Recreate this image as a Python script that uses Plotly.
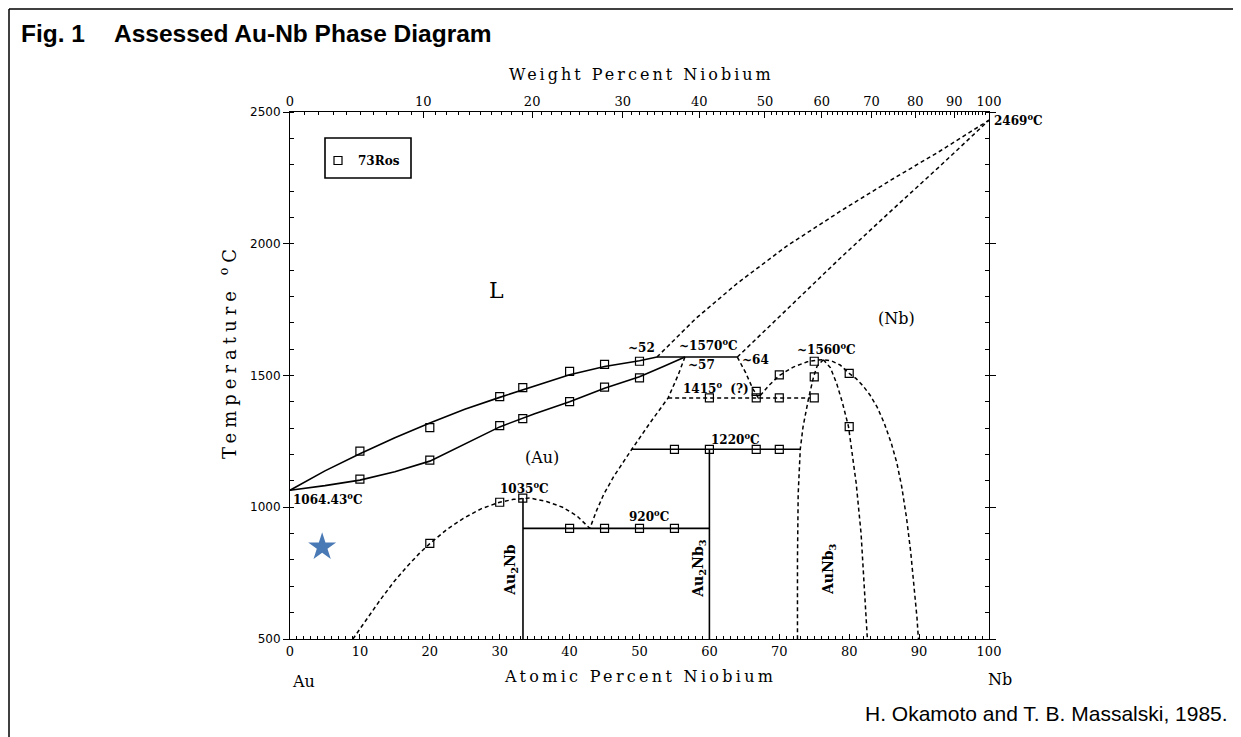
import plotly.graph_objects as go

SERIF = "DejaVu Serif"
SANS = "Liberation Sans"

# ---------------- data (atomic % Nb, temperature in deg C) ----------------
liq_x = [0, 5, 10, 15, 20, 25, 30, 35, 40, 45, 50, 52.5]
liq_t = [1064.43, 1138, 1203, 1264, 1320, 1372, 1417, 1461, 1503, 1534, 1556, 1570]

sol_x = [0, 5, 10, 15, 20, 25, 30, 35, 40, 45, 50, 53.5, 56.5]
sol_t = [1064.43, 1082, 1103, 1135, 1175, 1240, 1305, 1355, 1400, 1452, 1495, 1535, 1570]

peri_x = [52.5, 64]
peri_t = [1570, 1570]

nb_liq_x = [52.5, 58, 64, 71, 79, 86, 93, 100]
nb_liq_t = [1570, 1715, 1850, 1990, 2128, 2242, 2352, 2469]

nb_sol_x = [64, 71.5, 78.7, 85.8, 93, 100]
nb_sol_t = [1570, 1760, 1945, 2120, 2295, 2469]

nb_bound_x = [64, 65.2, 66.2, 67, 68.5, 70, 72, 74, 75.5, 76.3, 77.5, 78.7, 80, 81, 82, 83,
              84, 85, 86, 86.8, 87.5, 88.2, 88.8, 89.3, 89.7, 89.9]
nb_bound_t = [1570, 1510, 1450, 1415, 1462, 1500, 1532, 1552, 1559, 1560, 1555, 1540, 1508, 1488,
              1460, 1425, 1380, 1320, 1245, 1170, 1080, 960, 830, 700, 580, 500]

aunb3_r_x = [76.3, 77.3, 78.2, 79, 79.9, 81, 81.7, 82.2, 82.6]
aunb3_r_t = [1560, 1530, 1470, 1400, 1306, 1091, 900, 700, 500]

aunb3_l_x = [76.3, 75.4, 74.9, 74.2, 73.4, 73.0, 72.7, 72.6, 72.6]
aunb3_l_t = [1560, 1535, 1495, 1415, 1306, 1220, 1050, 800, 500]

au_bound_x = [56.5, 55.5, 54.1, 51.5, 48.9, 46.3, 44.9, 43.9, 42.9]
au_bound_t = [1570, 1500, 1415, 1320, 1220, 1116, 1050, 990, 920]

au_solvus_x = [9, 11, 12.9, 14.8, 16.7, 18.4, 20, 22.4, 24.8, 27.4, 30, 32, 34.3, 36.7, 39, 41, 42.9]
au_solvus_t = [500, 578, 648, 715, 774, 822, 862, 915, 958, 995, 1019, 1030, 1035, 1022, 1000, 968, 920]

eut1415_x = [54.1, 74.4]
eut1415_t = [1415, 1415]
eut920_x = [33.33, 60]
eut920_t = [920, 920]
per1220_x = [48.9, 73.0]
per1220_t = [1220, 1220]
au2nb_x = [33.33, 33.33]
au2nb_t = [500, 1035]
au2nb3_x = [60, 60]
au2nb3_t = [500, 1220]

# experimental points, 73Ros
ros_x = [10, 20, 30, 33.3, 40, 45, 50,
         10, 20, 30, 33.3, 40, 45, 50,
         20, 30, 33.3,
         40, 45, 50, 55,
         55, 60, 66.7, 70,
         60, 66.7, 70, 75,
         66.7, 70, 75, 75, 80, 80]
ros_t = [1213, 1302, 1420, 1454, 1516, 1542, 1554,
         1107, 1179, 1310, 1336, 1401, 1456, 1491,
         863, 1019, 1035,
         920, 920, 920, 920,
         1220, 1220, 1220, 1220,
         1415, 1415, 1415, 1415,
         1440, 1502, 1495, 1554, 1508, 1306]

# marked point (star)
star_x = [4.6]
star_t = [849]

# axis ticks
at_ticks = [0, 10, 20, 30, 40, 50, 60, 70, 80, 90, 100]
wt_ticks = [0, 10, 20, 30, 40, 50, 60, 70, 80, 90, 100]
t_ticks = [500, 1000, 1500, 2000, 2500]

M_NB, M_AU = 92.906, 196.967


def wt_to_at(w):
    a = w / M_NB
    b = (100 - w) / M_AU
    return 100 * a / (a + b)


# layout geometry (reference pixels); page body adds an 8px offset
OFF = 8
PL, PR, PT, PB = 290, 989, 112, 639
PW, PH = PR - PL, PB - PT


def px(x):
    return (x - PL) / PW


def py(y):
    return (PB - y) / PH


fig = go.Figure()

solid = dict(color="black", width=1.6)
dashed = dict(color="black", width=1.5, dash="4px,3px")


def add_line(x, y, line):
    fig.add_trace(go.Scatter(x=x, y=y, mode="lines", line=line, showlegend=False,
                             hoverinfo="skip"))


add_line(liq_x, liq_t, solid)
add_line(sol_x, sol_t, solid)
add_line(peri_x, peri_t, solid)
add_line(nb_liq_x, nb_liq_t, dashed)
add_line(nb_sol_x, nb_sol_t, dashed)
add_line(nb_bound_x, nb_bound_t, dashed)
add_line(aunb3_r_x, aunb3_r_t, dashed)
add_line(aunb3_l_x, aunb3_l_t, dashed)
add_line(au_bound_x, au_bound_t, dashed)
add_line(au_solvus_x, au_solvus_t, dashed)
add_line(eut1415_x, eut1415_t, dashed)
add_line(eut920_x, eut920_t, solid)
add_line(per1220_x, per1220_t, solid)
add_line(au2nb_x, au2nb_t, solid)
add_line(au2nb3_x, au2nb3_t, solid)

fig.add_trace(go.Scatter(x=ros_x, y=ros_t, mode="markers", name="<b>73Ros</b>",
                         marker=dict(symbol="square-open", size=8, color="black",
                                     line=dict(width=1.2, color="black"))))

fig.add_trace(go.Scatter(x=star_x, y=star_t, mode="markers", showlegend=False,
                         marker=dict(symbol="star", size=21, color="#4a7ab5",
                                     line=dict(width=0))))

# invisible trace for top axis
fig.add_trace(go.Scatter(x=[0, 100], y=[500, 500], xaxis="x2", mode="lines",
                         line=dict(width=0), showlegend=False, hoverinfo="skip"))

wt_minor = [wt_to_at(w) for w in range(0, 101) if w % 10 != 0]

fig.update_layout(
    width=1241, height=737, autosize=False,
    paper_bgcolor="white", plot_bgcolor="white",
    margin=dict(l=PL - OFF, r=1241 - (PR - OFF), t=PT - OFF, b=737 - (PB - OFF)),
    showlegend=True,
    legend=dict(x=px(318), y=py(146), xanchor="left", yanchor="top",
                bgcolor="rgba(0,0,0,0)", borderwidth=0,
                font=dict(family=SERIF, size=12, color="black"), itemwidth=30),
    xaxis=dict(range=[0, 100], tickvals=at_ticks, ticktext=[str(v) for v in at_ticks],
               showgrid=False, zeroline=False, showline=True, linecolor="black", linewidth=1,
               ticks="inside", ticklen=5, tickcolor="black",
               minor=dict(dtick=1, ticks="inside", ticklen=3, tickcolor="black"),
               tickfont=dict(family=SERIF, size=13, color="black"), mirror=False),
    xaxis2=dict(range=[0, 100], overlaying="x", side="top", anchor="y",
                tickvals=[wt_to_at(w) for w in wt_ticks], ticktext=[str(w) for w in wt_ticks],
                showgrid=False, zeroline=False, showline=True, linecolor="black", linewidth=1,
                ticks="inside", ticklen=6, tickcolor="black",
                minor=dict(tickvals=wt_minor, ticks="inside", ticklen=3, tickcolor="black"),
                tickfont=dict(family=SERIF, size=13, color="black")),
    yaxis=dict(range=[500, 2500], tickvals=t_ticks, ticktext=[str(v) for v in t_ticks],
               showgrid=False, zeroline=False, showline=True, linecolor="black", linewidth=1,
               ticks="outside", ticklen=6, tickcolor="black", mirror="ticks",
               minor=dict(dtick=100, ticks="inside", ticklen=4, tickcolor="black"),
               tickfont=dict(family="DejaVu Sans", size=12, color="black")),
)

ann = []


def label(text, x, y, size=12, xanchor="center", yanchor="middle", angle=0, family=SERIF,
          xref="x", yref="y"):
    ann.append(dict(text=text, x=x, y=y, xref=xref, yref=yref, showarrow=False,
                    xanchor=xanchor, yanchor=yanchor, textangle=angle,
                    font=dict(family=family, size=size, color="black")))


def plabel(text, xp, yp, size=12, xanchor="center", angle=0, family=SERIF):
    label(text, px(xp), py(yp), size=size, xanchor=xanchor, angle=angle, family=family,
          xref="paper", yref="paper")


# phase / point labels
label("L", 29.6, 1824, size=22)
label("(Nb)", 86.8, 1718, size=16)
label("(Au)", 36.0, 1190, size=16)
plabel("<b>2469<sup>o</sup>C</b>", 992, 120, size=12, xanchor="left")
label("<b>~52</b>", 52.5, 1603, size=12, xanchor="right")
label("<b>~1570<sup>o</sup>C</b>", 59.8, 1617, size=12)
label("<b>~64</b>", 64.4, 1560, size=12, xanchor="left")
label("<b>~57</b>", 56.7, 1540, size=12, xanchor="left")
label("<b>~1560<sup>o</sup>C</b>", 76.7, 1602, size=12)
label("<b>1415<sup>o</sup>  (?)</b>", 56.0, 1452, size=12, xanchor="left")
label("<b>1220<sup>o</sup>C</b>", 63.8, 1260, size=12)
label("<b>1035<sup>o</sup>C</b>", 33.6, 1072, size=12)
label("<b>920<sup>o</sup>C</b>", 51.4, 965, size=12)
label("<b>1064.43<sup>o</sup>C</b>", 0.1, 1032, size=12, xanchor="left")
label("<b>Au<sub>2</sub>Nb</b>", 31.6, 762, size=14, angle=-90)
label("<b>Au<sub>2</sub>Nb<sub>3</sub></b>", 58.6, 765, size=14, angle=-90)
label("<b>AuNb<sub>3</sub></b>", 77.1, 765, size=14, angle=-90)

# axis titles and corner labels
plabel('<span style="letter-spacing:3px">Weight Percent Niobium</span>', 641, 75, size=16)
plabel('<span style="letter-spacing:3.3px">Atomic Percent Niobium</span>', 640, 676, size=16)
plabel("Au", 303, 681, size=16)
plabel("Nb", 1000, 679, size=16)

# y axis title
ann.append(dict(text='<span style="letter-spacing:5px">Temperature <sup>o</sup>C</span>',
                x=px(228), y=py(352), xref="paper", yref="paper",
                showarrow=False, textangle=-90, xanchor="center", yanchor="middle",
                font=dict(family=SERIF, size=18, color="black")))

# title and credit
ann.append(dict(text="<b>Fig. 1</b>", x=px(19), y=py(33), xref="paper",
                yref="paper", showarrow=False, xanchor="left", yanchor="middle",
                font=dict(family=SANS, size=24.5, color="black")))
ann.append(dict(text="<b>Assessed Au-Nb Phase Diagram</b>", x=px(112),
                y=py(33), xref="paper", yref="paper", showarrow=False,
                xanchor="left", yanchor="middle",
                font=dict(family=SANS, size=24.5, color="black")))
ann.append(dict(text="H. Okamoto and T. B. Massalski, 1985.", x=px(1230),
                y=py(713), xref="paper", yref="paper", showarrow=False,
                xanchor="right", yanchor="middle",
                font=dict(family=SANS, size=21, color="black")))

fig.update_layout(annotations=ann)

# legend frame and outer figure frame
shapes = [
    dict(type="rect", xref="paper", yref="paper",
         x0=px(325), x1=px(411), y0=py(178), y1=py(138),
         line=dict(color="black", width=1.6)),
    dict(type="line", xref="paper", yref="paper",
         x0=px(9), x1=px(1250), y0=py(9), y1=py(9), line=dict(color="black", width=1.5)),
    dict(type="line", xref="paper", yref="paper",
         x0=px(9), x1=px(9), y0=py(9), y1=py(750), line=dict(color="black", width=1.5)),
]
fig.update_layout(shapes=shapes)

fig.write_html("out.html")
